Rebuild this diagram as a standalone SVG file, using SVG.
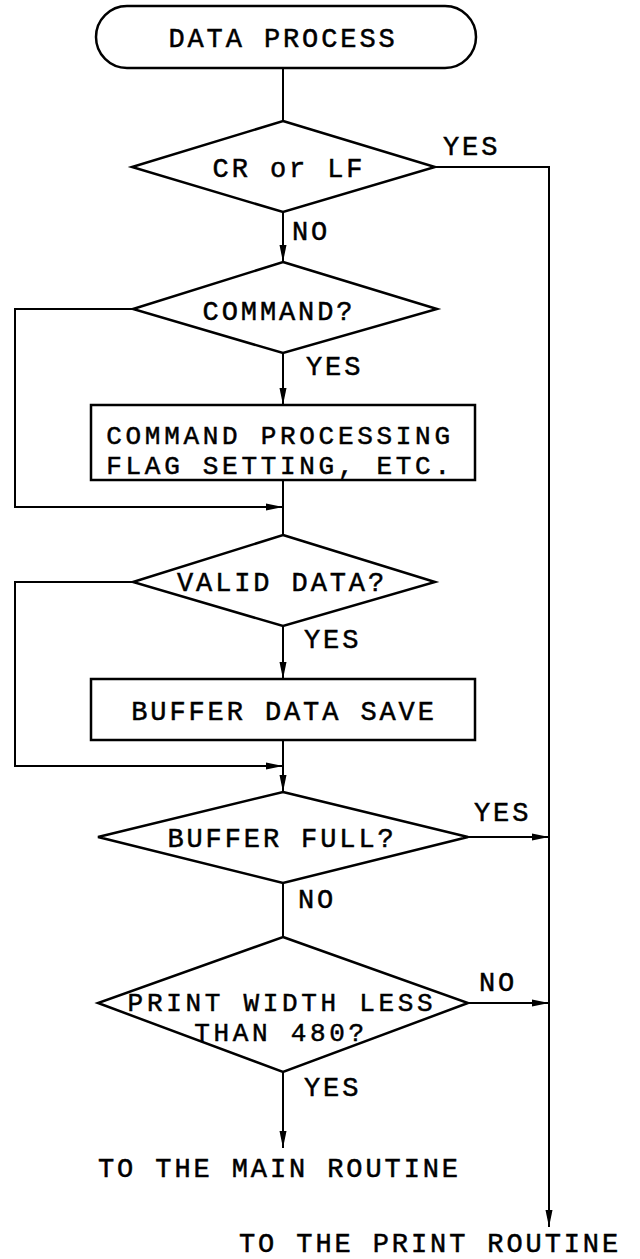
<svg xmlns="http://www.w3.org/2000/svg" width="640" height="1259" viewBox="0 0 640 1259">
<style>
.n{fill:#fff;stroke:#000;stroke-width:2.5}
.c{fill:none;stroke:#000;stroke-width:2}
.t{font-family:"Liberation Mono","Courier New",monospace;font-size:27px;letter-spacing:2.9px;fill:#000;stroke:#000;stroke-width:0.5}
.u{font-size:26px;letter-spacing:3.7px}
.m{text-anchor:middle}
</style>
<defs>
<marker id="ah" markerUnits="userSpaceOnUse" markerWidth="18" markerHeight="8" refX="17" refY="4" orient="auto">
<path d="M0,0.5 L17,4 L0,7.5 z" fill="#000"/>
</marker>
</defs>
<rect width="640" height="1259" fill="#fff"/>
<g id="connectors">
<path class="c" d="M283,68 V121"/>
<path class="c" d="M283,212 V262" marker-end="url(#ah)"/>
<path class="c" d="M435,167 H549 V1227" marker-end="url(#ah)"/>
<path class="c" d="M283,353 V405" marker-end="url(#ah)"/>
<path class="c" d="M133,309 H15 V507 H283" marker-end="url(#ah)"/>
<path class="c" d="M283,480 V535"/>
<path class="c" d="M283,626 V679" marker-end="url(#ah)"/>
<path class="c" d="M133,582 H15 V766 H283" marker-end="url(#ah)"/>
<path class="c" d="M283,740 V792" marker-end="url(#ah)"/>
<path class="c" d="M468,837 H549" marker-end="url(#ah)"/>
<path class="c" d="M283,883 V937"/>
<path class="c" d="M468,1003 H549" marker-end="url(#ah)"/>
<path class="c" d="M283,1072 V1148" marker-end="url(#ah)"/>
</g>
<g id="labels">
<text class="t" x="443" y="155">YES</text>
<text class="t" x="292" y="240">NO</text>
<text class="t" x="306" y="375">YES</text>
<text class="t" x="304" y="648">YES</text>
<text class="t" x="474" y="821">YES</text>
<text class="t" x="298" y="908">NO</text>
<text class="t" x="479" y="991">NO</text>
<text class="t" x="304" y="1096">YES</text>
</g>
<g id="start">
<rect class="n" x="96" y="6" width="380" height="62" rx="31" ry="31"/>
<text class="t m" x="283" y="47">DATA PROCESS</text>
</g>
<g id="crlf">
<polygon class="n" points="283,121 435,167 283,212 132,167"/>
<text class="t m" x="289" y="177">CR or LF</text>
</g>
<g id="command">
<polygon class="n" points="283,262 437,309 283,353 133,309"/>
<text class="t m" x="279" y="320">COMMAND?</text>
</g>
<g id="cmdproc">
<rect class="n" x="91" y="405" width="384" height="75"/>
<text class="t u m" x="280" y="444">COMMAND PROCESSING</text>
<text class="t u m" x="280" y="474">FLAG SETTING, ETC.</text>
</g>
<g id="valid">
<polygon class="n" points="283,535 435,582 283,626 133,582"/>
<text class="t m" x="282" y="591">VALID DATA?</text>
</g>
<g id="bufsave">
<rect class="n" x="91" y="679" width="384" height="61"/>
<text class="t m" x="284" y="720">BUFFER DATA SAVE</text>
</g>
<g id="buffull">
<polygon class="n" points="283,792 468,837 283,883 98,837"/>
<text class="t m" x="282" y="847">BUFFER FULL?</text>
</g>
<g id="printwidth">
<polygon class="n" points="283,937 468,1003 283,1072 98,1003"/>
<text class="t u m" x="282" y="1011">PRINT WIDTH LESS</text>
<text class="t u m" x="281" y="1041">THAN 480?</text>
</g>
<g id="main">
<text class="t" x="98" y="1177">TO THE MAIN ROUTINE</text>
</g>
<g id="print">
<text class="t" x="239" y="1252">TO THE PRINT ROUTINE</text>
</g>
</svg>
